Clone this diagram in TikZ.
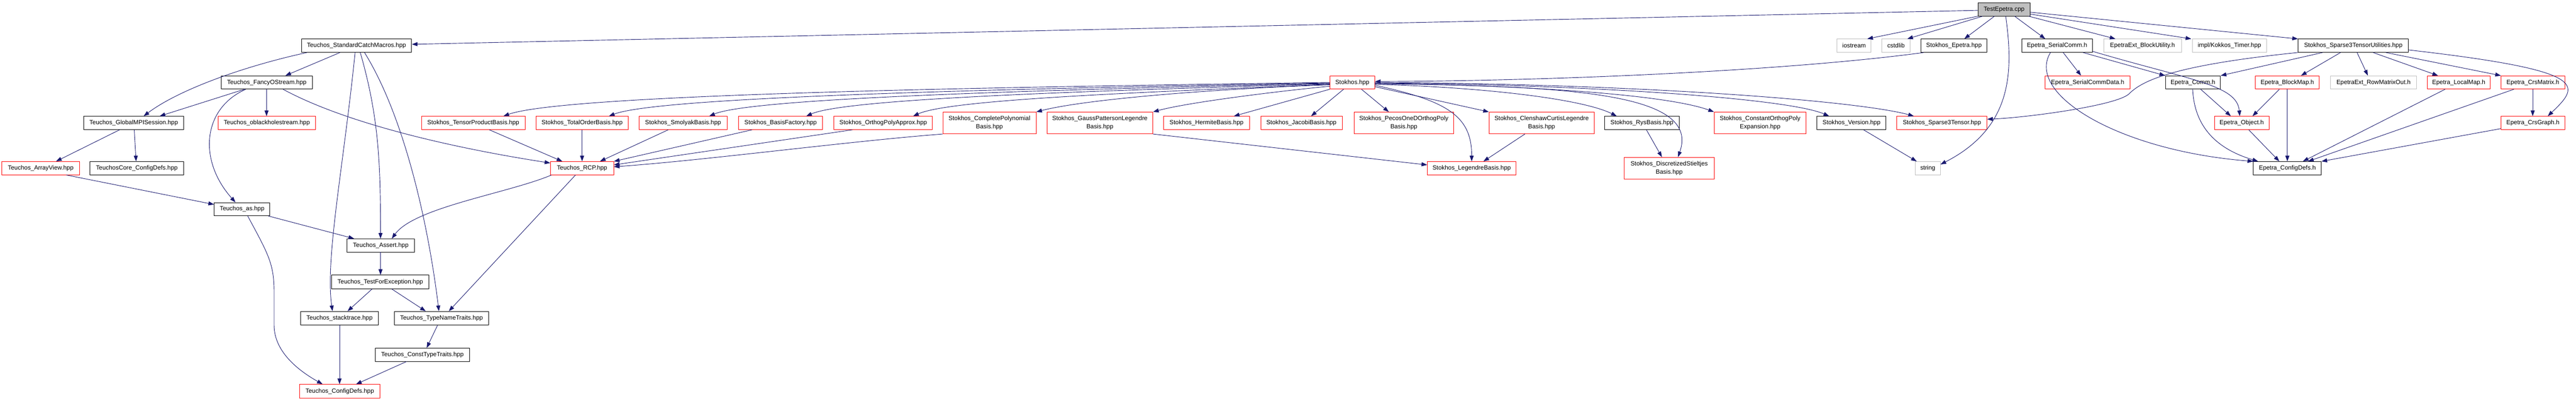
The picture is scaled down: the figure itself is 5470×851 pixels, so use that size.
\documentclass[tikz,border=0pt]{standalone}
\usepackage{fontspec}
\setmainfont{Liberation Sans}
\usetikzlibrary{arrows.meta,calc}
\definecolor{mb}{RGB}{25,25,112}
\definecolor{gborder}{RGB}{191,191,191}
\definecolor{gfill}{RGB}{191,191,191}
\newcommand\mybox[7]{\node[#6, minimum width={(#4)-(#2)}, minimum height={(#5)-(#3)}] (#1) at ({((#2)+(#4))/2},{((#3)+(#5))/2}) {#7};}
\begin{document}
\begin{tikzpicture}[x=1pt,y={(0pt,-1pt)},
  base/.style={draw, line width=1pt, inner sep=0pt, align=center, font=\fontsize{13}{17}\selectfont},
  nbk/.style={base, draw=black, fill=white},
  nrd/.style={base, draw=red, fill=white},
  ngy/.style={base, draw=gborder, fill=white},
  ntop/.style={base, draw=black, fill=gfill},
  ed/.style={draw=mb, line width=1pt, -{Triangle[length=12pt,width=8.5pt]}}]
\fill[white] (0,0) rectangle (5470,851);
\useasboundingbox (0,0) rectangle (5470,851);
% rank 0
\mybox{test}{4200}{6}{4311}{34}{ntop}{TestEpetra.cpp}
% rank 1
\mybox{std}{640}{83}{874}{111}{nbk}{Teuchos\_StandardCatchMacros.hpp}
\mybox{iostream}{3901}{83}{3973}{111}{ngy}{iostream}
\mybox{cstdlib}{3996}{83}{4056}{111}{ngy}{cstdlib}
\mybox{sepetra}{4079}{83}{4219}{111}{nbk}{Stokhos\_Epetra.hpp}
\mybox{scomm}{4293}{83}{4443}{111}{nbk}{Epetra\_SerialComm.h}
\mybox{blockutil}{4467}{83}{4632}{111}{ngy}{EpetraExt\_BlockUtility.h}
\mybox{kokkos}{4655}{83}{4813}{111}{ngy}{impl/Kokkos\_Timer.hpp}
\mybox{s3tu}{4880}{83}{5114}{111}{nbk}{Stokhos\_Sparse3TensorUtilities.hpp}
% rank 2
\mybox{fancy}{470}{161}{663}{189}{nbk}{Teuchos\_FancyOStream.hpp}
\mybox{stokhos}{2824}{161}{2919}{189}{nrd}{Stokhos.hpp}
\mybox{scd}{4343}{161}{4523}{189}{nrd}{Epetra\_SerialCommData.h}
\mybox{comm}{4598}{161}{4715}{189}{nbk}{Epetra\_Comm.h}
\mybox{blockmap}{4789}{161}{4925}{189}{nrd}{Epetra\_BlockMap.h}
\mybox{rowmat}{4949}{161}{5131}{189}{ngy}{EpetraExt\_RowMatrixOut.h}
\mybox{localmap}{5154}{161}{5288}{189}{nrd}{Epetra\_LocalMap.h}
\mybox{crsmat}{5311}{161}{5446}{189}{nrd}{Epetra\_CrsMatrix.h}
% rank 3
\mybox{global}{178}{247}{390}{275}{nbk}{Teuchos\_GlobalMPISession.hpp}
\mybox{oblack}{463}{247}{670}{275}{nrd}{Teuchos\_oblackholestream.hpp}
\mybox{tensor}{895}{247}{1115}{275}{nrd}{Stokhos\_TensorProductBasis.hpp}
\mybox{total}{1138}{247}{1334}{275}{nrd}{Stokhos\_TotalOrderBasis.hpp}
\mybox{smolyak}{1357}{247}{1544}{275}{nrd}{Stokhos\_SmolyakBasis.hpp}
\mybox{factory}{1568}{247}{1747}{275}{nrd}{Stokhos\_BasisFactory.hpp}
\mybox{opa}{1771}{247}{1980}{275}{nrd}{Stokhos\_OrthogPolyApprox.hpp}
\mybox{complete}{2002}{238}{2200}{284}{nrd}{Stokhos\_CompletePolynomial\\Basis.hpp}
\mybox{gauss}{2223}{238}{2448}{284}{nrd}{Stokhos\_GaussPattersonLegendre\\Basis.hpp}
\mybox{hermite}{2471}{247}{2653}{275}{nrd}{Stokhos\_HermiteBasis.hpp}
\mybox{jacobi}{2677}{247}{2850}{275}{nrd}{Stokhos\_JacobiBasis.hpp}
\mybox{pecos}{2875}{238}{3087}{284}{nrd}{Stokhos\_PecosOneDOrthogPoly\\Basis.hpp}
\mybox{clenshaw}{3162}{238}{3385}{284}{nrd}{Stokhos\_ClenshawCurtisLegendre\\Basis.hpp}
\mybox{rys}{3407}{247}{3566}{275}{nbk}{Stokhos\_RysBasis.hpp}
\mybox{constant}{3640}{238}{3835}{284}{nrd}{Stokhos\_ConstantOrthogPoly\\Expansion.hpp}
\mybox{version}{3858}{247}{4005}{275}{nbk}{Stokhos\_Version.hpp}
\mybox{s3t}{4028}{247}{4219}{275}{nrd}{Stokhos\_Sparse3Tensor.hpp}
\mybox{object}{4702}{247}{4818}{275}{nrd}{Epetra\_Object.h}
\mybox{crsgraph}{5311}{247}{5446}{275}{nrd}{Epetra\_CrsGraph.h}
% rank 4
\mybox{arrayview}{4}{343}{169}{371}{nrd}{Teuchos\_ArrayView.hpp}
\mybox{coredefs}{191}{343}{390}{371}{nbk}{TeuchosCore\_ConfigDefs.hpp}
\mybox{rcp}{1169}{343}{1303}{371}{nrd}{Teuchos\_RCP.hpp}
\mybox{legendre}{3031}{343}{3219}{371}{nrd}{Stokhos\_LegendreBasis.hpp}
\mybox{stieltjes}{3449}{334}{3640}{380}{nrd}{Stokhos\_DiscretizedStieltjes\\Basis.hpp}
\mybox{string}{4067}{343}{4120}{371}{ngy}{string}
\mybox{econfig}{4785}{343}{4929}{371}{nbk}{Epetra\_ConfigDefs.h}
% lower ranks
\mybox{as}{455}{430}{573}{458}{nbk}{Teuchos\_as.hpp}
\mybox{assert}{737}{507}{880}{535}{nbk}{Teuchos\_Assert.hpp}
\mybox{testfor}{704}{584}{911}{613}{nbk}{Teuchos\_TestForException.hpp}
\mybox{stack}{638}{661}{804}{690}{nbk}{Teuchos\_stacktrace.hpp}
\mybox{typename}{837}{661}{1038}{690}{nbk}{Teuchos\_TypeNameTraits.hpp}
\mybox{consttype}{797}{739}{997}{767}{nbk}{Teuchos\_ConstTypeTraits.hpp}
\mybox{configdefs}{636}{816}{807}{845}{nrd}{Teuchos\_ConfigDefs.hpp}

% edges from TestEpetra.cpp
\draw[ed] (test.west |- 0,22) -- (std.east |- 0,94);
\draw[ed] (test.south west) -- (3965,0 |- iostream.north);
\draw[ed] (4210,0 |- test.south) -- (4050,0 |- cstdlib.north);
\draw[ed] (4235,0 |- test.south) -- (4171,0 |- sepetra.north);
\draw[ed] (4259,0 |- test.south) .. controls (4275,150) and (4275,270) .. (string.east |- 0,349);
\draw[ed] (4278,0 |- test.south) -- (4343,0 |- scomm.north);
\draw[ed] (4308,0 |- test.south) -- (4492,0 |- blockutil.north);
\draw[ed] (test.east |- 0,30) -- (4653,0 |- kokkos.north);
\draw[ed] (test.east |- 0,26) -- (s3tu.north west);
\draw[ed] (4085,0 |- sepetra.south) .. controls (3800,150) and (3300,172) .. (stokhos.east |- 0,173);

% Teuchos side
\draw[ed] (652,0 |- std.south) .. controls (520,140) and (380,190) .. (305,0 |- global.north);
\draw[ed] (722,0 |- std.south) -- (606,0 |- fancy.north);
\draw[ed] (754,0 |- std.south) .. controls (730,350) and (690,550) .. (706,0 |- stack.north);
\draw[ed] (765,0 |- std.south) .. controls (805,250) and (808,350) .. (808,0 |- assert.north);
\draw[ed] (774,0 |- std.south) .. controls (860,250) and (910,480) .. (932,0 |- typename.north);
\draw[ed] (519,0 |- fancy.south) -- (339,0 |- global.north);
\draw[ed] (566,0 |- fancy.south) -- (566,0 |- oblack.north);
\draw[ed] (522,0 |- fancy.south) .. controls (430,230) and (420,340) .. (500,0 |- as.north);
\draw[ed] (601,0 |- fancy.south) .. controls (750,270) and (1000,320) .. (rcp.west |- 0,346);
\draw[ed] (254,0 |- global.south) -- (119,0 |- arrayview.north);
\draw[ed] (285,0 |- global.south) -- (289,0 |- coredefs.north);
\draw[ed] (141,0 |- arrayview.south) -- (as.west |- 0,434);
\draw[ed] (570,0 |- as.south) -- (752,0 |- assert.north);
\draw[ed] (526,0 |- as.south) .. controls (570,540) and (582,560) .. (582,620) -- (582,690) .. controls (582,750) and (640,790) .. (685,0 |- configdefs.north);
\draw[ed] (1171,0 |- rcp.south) .. controls (1080,410) and (880,440) .. (832,0 |- assert.north);
\draw[ed] (1222,0 |- rcp.south) -- (953,0 |- typename.north);
\draw[ed] (808,0 |- assert.south) -- (808,0 |- testfor.north);
\draw[ed] (790,0 |- testfor.south) -- (738,0 |- stack.north);
\draw[ed] (832,0 |- testfor.south) -- (904,0 |- typename.north);
\draw[ed] (721,0 |- stack.south) -- (721,0 |- configdefs.north);
\draw[ed] (929,0 |- typename.south) -- (906,0 |- consttype.north);
\draw[ed] (863,0 |- consttype.south) -- (756,0 |- configdefs.north);

% bases to RCP
\draw[ed] (1039,0 |- tensor.south) -- (1194,0 |- rcp.north);
\draw[ed] (1236,0 |- total.south) -- (1236,0 |- rcp.north);
\draw[ed] (1419,0 |- smolyak.south) -- (1274,0 |- rcp.north);
\draw[ed] (1597,0 |- factory.south) -- (rcp.north east);
\draw[ed] (1810,0 |- opa.south) -- (rcp.east |- 0,350);
\draw[ed] (complete.south west) .. controls (1800,300) and (1500,340) .. (rcp.east |- 0,354);

% Stokhos.hpp fan
\draw[ed] (stokhos.west |- 0,175) .. controls (2100,185) and (1200,200) .. (1069,0 |- tensor.north);
\draw[ed] (stokhos.west |- 0,176) .. controls (2150,188) and (1400,205) .. (1293,0 |- total.north);
\draw[ed] (stokhos.west |- 0,177) .. controls (2250,190) and (1600,207) .. (1506,0 |- smolyak.north);
\draw[ed] (stokhos.west |- 0,178) .. controls (2350,192) and (1800,208) .. (1712,0 |- factory.north);
\draw[ed] (stokhos.west |- 0,179) .. controls (2450,195) and (2020,210) .. (1939,0 |- opa.north);
\draw[ed] (stokhos.west |- 0,180) .. controls (2550,190) and (2300,212) .. (complete.north east);
\draw[ed] (stokhos.west |- 0,183) .. controls (2700,195) and (2520,218) .. (gauss.north east);
\draw[ed] (stokhos.south west) -- (2620,0 |- hermite.north);
\draw[ed] (2853,0 |- stokhos.south) -- (2784,0 |- jacobi.north);
\draw[ed] (2891,0 |- stokhos.south) -- (2949,0 |- pecos.north);
\draw[ed] (stokhos.east |- 0,184) -- (clenshaw.north west);
\draw[ed] (stokhos.east |- 0,181) .. controls (3080,215) and (3125,250) .. (3125,0 |- legendre.north);
\draw[ed] (stokhos.east |- 0,179) .. controls (3150,185) and (3360,210) .. (3433,0 |- rys.north);
\draw[ed] (stokhos.east |- 0,178) .. controls (3350,182) and (3610,200) .. (3563,0 |- stieltjes.north);
\draw[ed] (stokhos.east |- 0,177) .. controls (3300,182) and (3550,205) .. (constant.north west);
\draw[ed] (stokhos.east |- 0,176) .. controls (3400,180) and (3800,210) .. (3884,0 |- version.north);
\draw[ed] (stokhos.east |- 0,175) .. controls (3500,178) and (3950,215) .. (4064,0 |- s3t.north);
\draw[ed] (3238,0 |- clenshaw.south) -- (3150,0 |- legendre.north);
\draw[ed] (gauss.south east) -- (legendre.west |- 0,350);
\draw[ed] (3496,0 |- rys.south) -- (3529,0 |- stieltjes.north);
\draw[ed] (3957,0 |- version.south) -- (4070,0 |- string.north);

% Epetra side
\draw[ed] (4381,0 |- scomm.south) -- (4419,0 |- scd.north);
\draw[ed] (4423,0 |- scomm.south) -- (comm.north west);
\draw[ed] (scomm.east |- 0,109) .. controls (4650,170) and (4750,180) .. (4756,0 |- object.north);
\draw[ed] (4354,0 |- scomm.south) .. controls (4300,200) and (4500,320) .. (econfig.north west);
\draw[ed] (s3tu.south west) .. controls (4600,140) and (4545,175) .. (4520,200) .. controls (4490,225) and (4300,250) .. (s3t.east |- 0,253);
\draw[ed] (4932,0 |- s3tu.south) -- (comm.north east);
\draw[ed] (4970,0 |- s3tu.south) -- (4886,0 |- blockmap.north);
\draw[ed] (5005,0 |- s3tu.south) -- (5028,0 |- rowmat.north);
\draw[ed] (5039,0 |- s3tu.south) -- (5177,0 |- localmap.north);
\draw[ed] (5066,0 |- s3tu.south) -- (crsmat.north west);
\draw[ed] (s3tu.east |- 0,106) .. controls (5500,150) and (5480,180) .. (5410,0 |- crsgraph.north);
\draw[ed] (4673,0 |- comm.south) -- (4737,0 |- object.north);
\draw[ed] (4656,0 |- comm.south) .. controls (4660,280) and (4720,320) .. (4795,0 |- econfig.north);
\draw[ed] (4840,0 |- blockmap.south) -- (4783,0 |- object.north);
\draw[ed] (4857,0 |- blockmap.south) -- (4857,0 |- econfig.north);
\draw[ed] (4775,0 |- object.south) -- (4840,0 |- econfig.north);
\draw[ed] (5192,0 |- localmap.south) -- (4890,0 |- econfig.north);
\draw[ed] (5378,0 |- crsmat.south) -- (5378,0 |- crsgraph.north);
\draw[ed] (5338,0 |- crsmat.south) -- (4901,0 |- econfig.north);
\draw[ed] (crsgraph.west |- 0,273) -- (econfig.north east);
\end{tikzpicture}
\end{document}
